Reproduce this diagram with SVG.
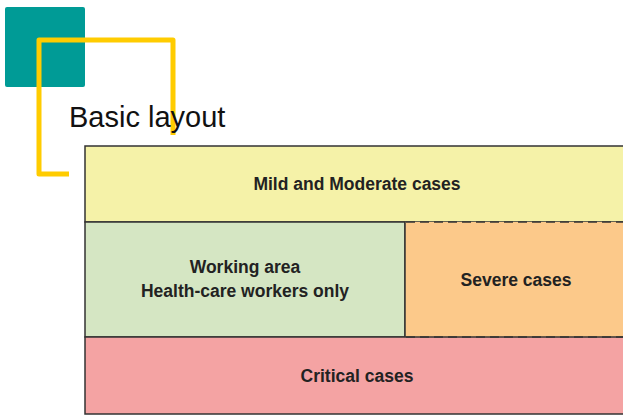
<svg xmlns="http://www.w3.org/2000/svg" width="623" height="417" viewBox="0 0 623 417">
<style>
.lbl{font-family:"Liberation Sans",Arial,sans-serif;font-weight:bold;font-size:17.5px;fill:#222;text-anchor:middle}
.cell{stroke:#333;stroke-width:1.5}
.dash{stroke:#333;stroke-width:1.5;stroke-dasharray:9,5;fill:none}
</style>
<rect width="623" height="417" fill="#ffffff"/>
<g id="decor">
<rect x="5" y="7" width="80" height="80" rx="2" fill="#009b96"/>
<path d="M69,174 H39 V40 H173 V135" fill="none" stroke="#ffcc00" stroke-width="5" stroke-linejoin="round"/>
<text x="69" y="127" font-family="'Liberation Sans',Arial,sans-serif" font-size="29" fill="#111">Basic layout</text>
</g>
<g id="mild">
<rect class="cell" x="85" y="146" width="545" height="76" fill="#f5f2a8"/>
<text class="lbl" x="357" y="190">Mild and Moderate cases</text>
</g>
<g id="working">
<rect class="cell" x="85" y="222" width="320" height="115" fill="#d5e6c3"/>
<text class="lbl" x="245" y="273">Working area</text>
<text class="lbl" x="245" y="297">Health-care workers only</text>
</g>
<g id="severe">
<rect x="405" y="222" width="225" height="115" fill="#fcc98a"/>
<line class="cell" x1="405" y1="222" x2="405" y2="337"/>
<text class="lbl" x="516" y="286">Severe cases</text>
</g>
<g id="critical">
<rect class="cell" x="85" y="337" width="545" height="77" fill="#f4a3a3"/>
<text class="lbl" x="357" y="382">Critical cases</text>
</g>
<g id="connectors">
<line class="dash" x1="406" y1="222" x2="623" y2="222"/>
<line class="dash" x1="406" y1="337" x2="623" y2="337"/>
</g>
</svg>
